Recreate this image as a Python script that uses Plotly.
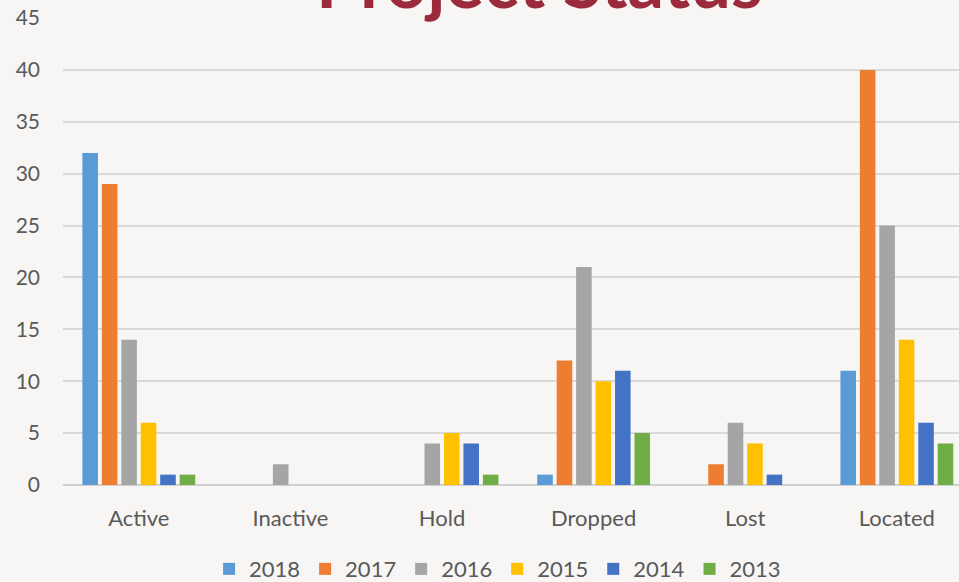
import plotly.graph_objects as go

categories = ["Active", "Inactive", "Hold", "Dropped", "Lost", "Located"]
years = ["2018", "2017", "2016", "2015", "2014", "2013"]
v2018 = [32, 0, 0, 1, 0, 11]
v2017 = [29, 0, 0, 12, 2, 40]
v2016 = [14, 2, 4, 21, 6, 25]
v2015 = [6, 0, 5, 10, 4, 14]
v2014 = [1, 0, 4, 11, 1, 6]
v2013 = [1, 0, 1, 5, 0, 4]
series = [v2018, v2017, v2016, v2015, v2014, v2013]
colors = ["#5B9BD5", "#ED7D31", "#A5A5A5", "#FFC000", "#4472C4", "#70AD47"]

fig = go.Figure()
for name, vals, c in zip(years, series, colors):
    fig.add_trace(go.Bar(x=categories, y=vals, name=name,
                         marker=dict(color=c, line=dict(width=0))))

W, H = 959, 582
ml, mr, mt, mb = 63, 0, 18, 97
fig.update_layout(
    width=W, height=H,
    margin=dict(l=ml, r=mr, t=mt, b=mb, autoexpand=False),
    paper_bgcolor="#f7f6f4",
    plot_bgcolor="rgba(0,0,0,0)",
    barmode="group",
    bargap=0.23,
    bargroupgap=0.2,
    font=dict(family="Lato, Open Sans, sans-serif", color="#595959"),
    showlegend=True,
    legend=dict(orientation="h", x=0.485, xanchor="center", y=-0.18, yanchor="middle",
                font=dict(size=22, color="#595959"), itemwidth=30, traceorder="normal",
                bgcolor="rgba(0,0,0,0)"),
    xaxis=dict(range=[-0.5, 5.41], showgrid=False, tickfont=dict(size=22, color="#595959"),
               ticks="", showline=False, ticklabelstandoff=18, fixedrange=True),
    yaxis=dict(range=[0, 45], dtick=5, showgrid=True, gridcolor="#d9d9d9", gridwidth=1.5,
               zeroline=True, zerolinecolor="#d0d0d0", zerolinewidth=2,
               tickfont=dict(size=21, color="#595959"), ticklabelstandoff=22, fixedrange=True),
    annotations=[dict(text="<b>Project Status</b>", xref="paper", yref="paper",
                      x=(539 - ml) / (W - ml - mr), y=(H - mb - 25) / (H - mt - mb),
                      xanchor="center", yanchor="bottom", showarrow=False,
                      font=dict(size=72, color="#9B2B3C", family="Lato, Open Sans, sans-serif"))],
)

fig.write_html("out.html", config={"displayModeBar": False},
               post_script="document.body.style.margin='0';")
